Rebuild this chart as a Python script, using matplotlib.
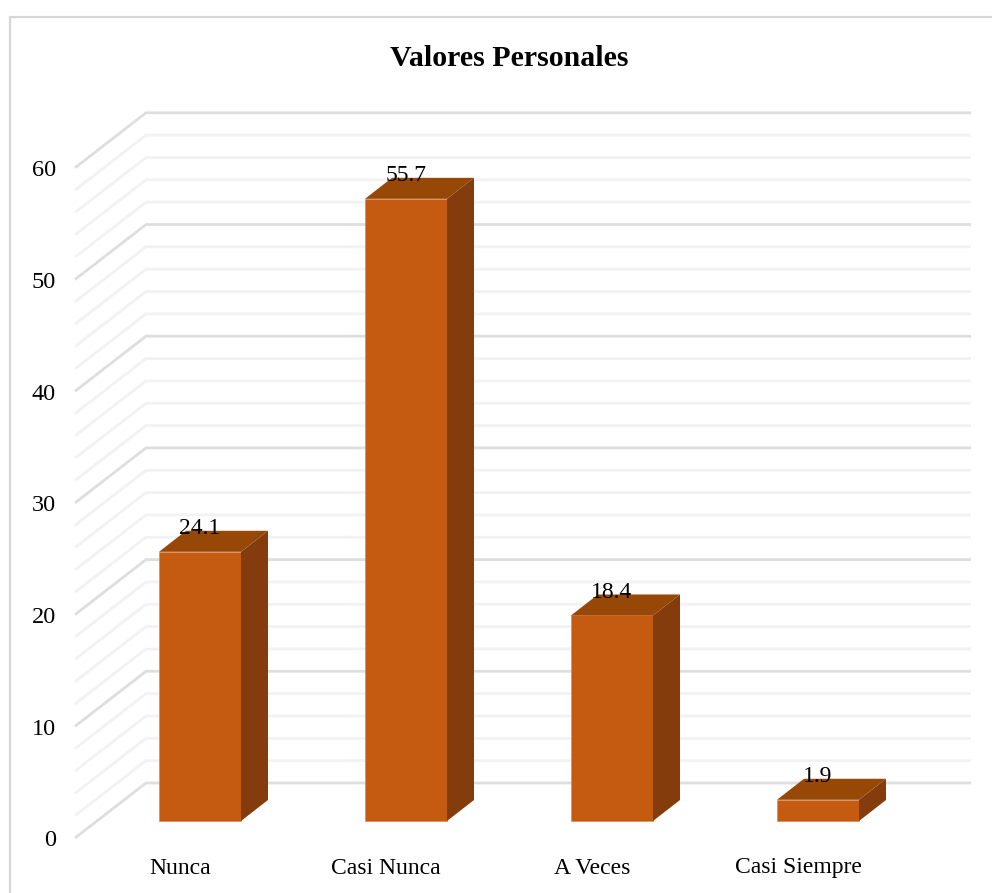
"""Valores Personales: fake-3D column chart drawn on a flat axes."""

import matplotlib

matplotlib.use("Agg")
import matplotlib.pyplot as plt
from matplotlib.patches import Polygon, Rectangle

plt.rcParams["font.family"] = ["Liberation Serif", "DejaVu Serif"]

categories = ["Nunca", "Casi Nunca", "A Veces", "Casi Siempre"]
values = [24.1, 55.7, 18.4, 1.9]
value_labels = ["24.1", "55.7", "18.4", "1.9"]
y_ticks = [0, 10, 20, 30, 40, 50, 60]
grid_values = list(range(0, 62, 2))

WIDTH, HEIGHT = 992, 893
PX_X = 206.0  # pixels per category
PX_Y = 11.17  # pixels per value unit
X0_PX = 200.0  # pixel of first category centre
Y0_PX = 821.0  # pixel of zero at bar front


def sx(px):
    return px / PX_X


def sy(px):
    return px / PX_Y


fig = plt.figure(figsize=(WIDTH / 100, HEIGHT / 100), dpi=100)
ax = fig.add_axes([0, 0, 1, 1])
ax.set_xlim((0 - X0_PX) / PX_X, (WIDTH - X0_PX) / PX_X)
ax.set_ylim((Y0_PX - HEIGHT) / PX_Y, Y0_PX / PX_Y)
ax.axis("off")

# chart frame: only left and top edges are inside the crop
left, right = -X0_PX / PX_X + sx(10), (WIDTH - X0_PX) / PX_X
top = Y0_PX / PX_Y - sy(17)
bottom = (Y0_PX - HEIGHT) / PX_Y
ax.plot([left, left, right], [bottom, top, top], color="#d6d6d6", lw=1.6)

# wall and floor grid
wall_left = (146 - X0_PX) / PX_X
wall_right = (971 - X0_PX) / PX_X
front_left = (75 - X0_PX) / PX_X
front_dy = sy(17)  # front edge of floor sits below bar front
back_dy = sy(38)  # back wall rises above bar front
for v in grid_values:
    major = v % 10 == 0
    ax.plot(
        [front_left, wall_left, wall_right],
        [v - front_dy, v + back_dy, v + back_dy],
        color="#dedede" if major else "#f2f2f2",
        lw=2.0,
        solid_joinstyle="miter",
        solid_capstyle="butt",
        zorder=1,
    )

# bars
half = sx(41)
dx, dy = sx(27), sy(21)
for i, v in enumerate(values):
    x0, x1 = i - half, i + half
    ax.add_patch(Rectangle((x0, 0), 2 * half, v, fc="#C55A11", ec="#D98A55", lw=0.5, zorder=3))
    ax.add_patch(
        Polygon([(x1, 0), (x1 + dx, dy), (x1 + dx, v + dy), (x1, v)], fc="#843C0C", ec="none", zorder=3)
    )
    ax.add_patch(
        Polygon([(x0, v), (x0 + dx, v + dy), (x1 + dx, v + dy), (x1, v)], fc="#974706", ec="none", zorder=3)
    )
    ax.text(i, v + sy(23), value_labels[i], ha="center", va="center", fontsize=17, color="black", zorder=4)
    ax.text(i - sx(20), -sy(47), categories[i], ha="center", va="center", fontsize=17, color="black")

# value axis labels
for t in y_ticks:
    ax.text(front_left - sx(19), t - front_dy + sy(-3), str(t), ha="right", va="center", fontsize=17.5, color="black")

ax.text(
    (509 - X0_PX) / PX_X,
    (Y0_PX - 59) / PX_Y,
    "Valores Personales",
    ha="center",
    va="center",
    fontsize=21.5,
    fontweight="bold",
    color="black",
)

fig.savefig("out.png", dpi=100)
